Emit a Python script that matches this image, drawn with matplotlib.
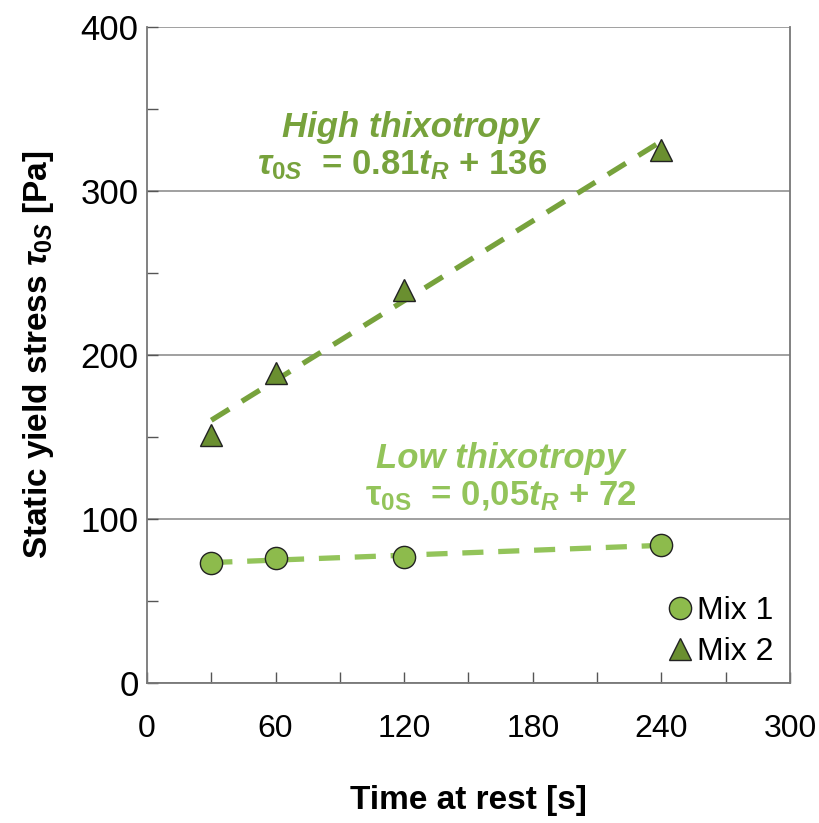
import numpy as np
import matplotlib
matplotlib.use("Agg")
import matplotlib.pyplot as plt
from matplotlib.ticker import MultipleLocator

# data
restTime = [30, 60, 120, 240]
mix1Stress = [73, 76, 77, 84]
mix2Stress = [151, 189, 240, 325]

# fitted lines as printed on the chart
highSlope, highIntercept = 0.81, 136
lowSlope, lowIntercept = 0.05, 72
fitRange = [30, 240]

plt.rcParams['font.family'] = ['Liberation Sans', 'DejaVu Sans']
plt.rcParams['mathtext.fontset'] = 'custom'
plt.rcParams['mathtext.rm'] = 'Liberation Sans:bold'
plt.rcParams['mathtext.it'] = 'Liberation Sans:italic:bold'
plt.rcParams['mathtext.bf'] = 'Liberation Sans:bold'

highColor = '#77a23c'
lowColor = '#93c45a'

fig = plt.figure(figsize=(8.19, 8.23), dpi=100)
ax = fig.add_axes([0.1795, 0.170, 0.785, 0.797])

fitX = np.array(fitRange)
ax.plot(fitX, highSlope * fitX + highIntercept, color=highColor, lw=3.8,
        dashes=(4, 2.8), zorder=2)
ax.plot(fitX, lowSlope * fitX + lowIntercept, color=lowColor, lw=3.8,
        dashes=(4, 2.8), zorder=2)

ax.plot(restTime, mix1Stress, 'o', ms=16, mfc='#8dbb4c', mec='#222222',
        mew=1.0, ls='none', label='Mix 1', zorder=3)
ax.plot(restTime, mix2Stress, '^', ms=16, mfc='#6a8f30', mec='#222222',
        mew=1.0, ls='none', label='Mix 2', zorder=3)

ax.set_xlim(0, 300)
ax.set_ylim(0, 400)
ax.xaxis.set_major_locator(MultipleLocator(60))
ax.xaxis.set_minor_locator(MultipleLocator(30))
ax.yaxis.set_major_locator(MultipleLocator(100))
ax.yaxis.set_minor_locator(MultipleLocator(50))
ax.tick_params(which='both', direction='in', length=8, width=1.0,
               color='#555555')
ax.tick_params(axis='x', which='major', pad=22, labelsize=23)
ax.tick_params(axis='y', which='major', pad=6, labelsize=25)
ax.yaxis.grid(True, which='major', color='#999999', lw=1.3)
ax.set_axisbelow(True)

for side in ['left', 'bottom', 'right']:
    ax.spines[side].set_color('#777777')
    ax.spines[side].set_linewidth(1.3)
ax.spines['top'].set_visible(False)

ax.set_xlabel('Time at rest [s]', fontsize=24, fontweight='bold', labelpad=30)
ax.set_ylabel(r'Static yield stress $\tau_{0S}$ [Pa]', fontsize=24,
              fontweight='bold', labelpad=18)

ax.text(123, 339, 'High thixotropy', color=highColor, fontsize=25,
        fontweight='bold', style='italic', ha='center', va='center')
ax.text(119, 316, r'$\tau_{0S}$  = 0.81$t_R$ + $136$', color=highColor,
        fontsize=25, fontweight='bold', ha='center', va='center')
ax.text(165, 137, 'Low thixotropy', color=lowColor, fontsize=25,
        fontweight='bold', style='italic', ha='center', va='center')
ax.text(165, 114, r'$\mathrm{\tau_{0S}}$  = 0,05$t_R$ + 72', color=lowColor,
        fontsize=25, fontweight='bold', ha='center', va='center')

ax.legend(loc='lower right', frameon=False, fontsize=23, handletextpad=0.0,
          handlelength=1.1, borderaxespad=0.1, labelspacing=0.35,
          bbox_to_anchor=(1.0, 0.0))

fig.savefig('out.png', dpi=100)
